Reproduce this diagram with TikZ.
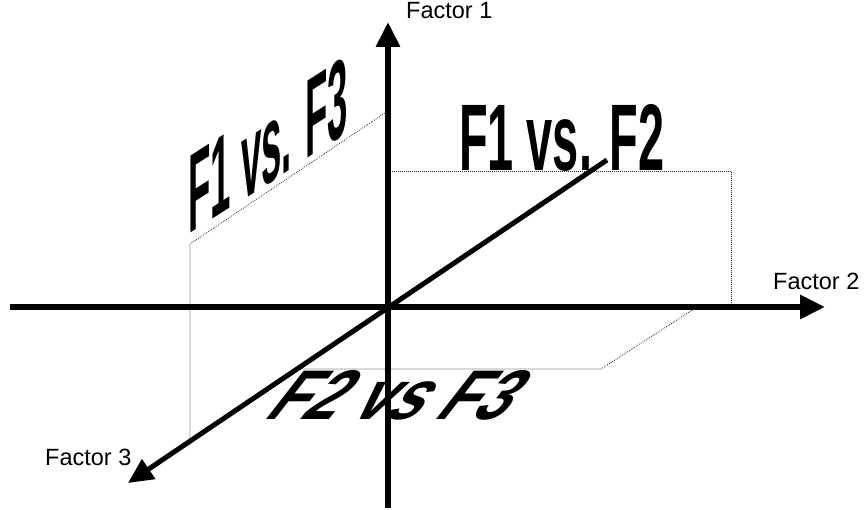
\documentclass[tikz,border=0pt]{standalone}
\usepackage{fontspec}
\setmainfont{Liberation Sans}
\usepackage{graphicx}
\usetikzlibrary{arrows.meta}
\tikzset{
  eje/.style={draw=black,line width=6pt,-{Triangle[length=25pt,width=23pt]}},
  plano/.style={draw=black!85,line width=0.8pt,dash pattern=on 0.8pt off 1.2pt},
  rotulo/.style={font=\fontsize{23.5}{23.5}\selectfont,inner sep=0pt,anchor=base west},
  titulo/.style={font=\bfseries,inner sep=0pt,anchor=base west,transform shape},
}

\begin{document}
\begin{tikzpicture}[x=1pt,y=1pt]
\useasboundingbox (0,0) rectangle (864,510);
\coordinate (O) at (388,203);
\coordinate (f1a) at (388,2);
\coordinate (f1b) at (388,488);
\coordinate (f2a) at (10,203);
\coordinate (f2b) at (825,203);
\coordinate (f3a) at (607,350);
\coordinate (f3b) at (128,27);
% planos punteados
\coordinate (p12a) at (388,339);
\coordinate (p12b) at (731,339);
\coordinate (p12c) at (731,203);
\coordinate (p13a) at (388,399);
\coordinate (p13b) at (190,266);
\coordinate (p13c) at (190,70);
\coordinate (p23a) at (697,203);
\coordinate (p23b) at (601,141);
\coordinate (p23c) at (296,141);
\draw[plano] (p12a) -- (p12b) -- (p12c);
\draw[plano] (p13a) -- (p13b) -- (p13c);
\draw[plano] (p23a) -- (p23b) -- (p23c);
% titulos de los planos
\node[titulo] (t12) at (459,339) {\resizebox{205pt}{66pt}{F1 vs. F2}};
\node[titulo,yslant=0.64] (t13) at (188,275) {\resizebox{160pt}{78pt}{F1 vs. F3}};
\node[titulo,xslant=0.78] (t23) at (262,90) {\resizebox{240pt}{49pt}{F2 vs F3}};
% ejes
\draw[eje] (f1a) -- (f1b);
\draw[eje] (f2a) -- (f2b);
\draw[eje,line width=5pt] (f3a) -- (f3b);
\node[rotulo] (e1) at (406,491) {Factor 1};
\node[rotulo] (e2) at (773,220) {Factor 2};
\node[rotulo] (e3) at (45,44) {Factor 3};
\end{tikzpicture}
\end{document}
